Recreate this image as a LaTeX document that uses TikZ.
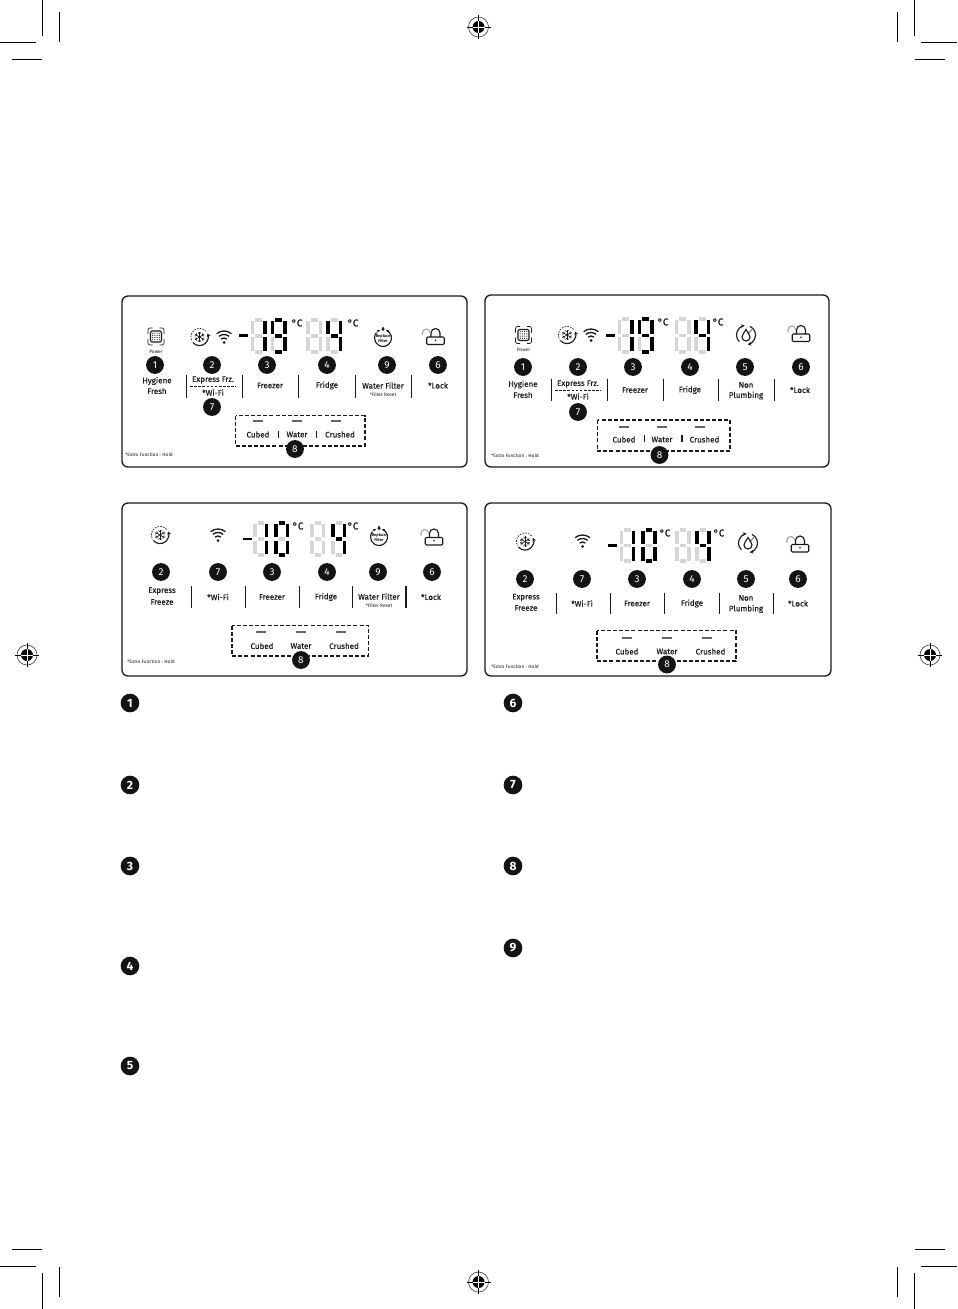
\documentclass[tikz,border=0pt]{standalone}
\usepackage{fontspec}
\setmainfont{Fira Sans}
\newfontfamily\labf{Fira Sans}[FakeBold=0.2]
\usetikzlibrary{arrows.meta}
\definecolor{ink}{HTML}{1A1A1A}
\definecolor{offseg}{HTML}{D6D6D6}
\newcount\nid
\newcommand\bump{\global\advance\nid by 1\relax}
\def\nn{n\the\nid}
\tikzset{
  frame/.style={draw=ink,line width=1pt,rounded corners=4.5pt},
  crop/.style={draw=black,line width=.75pt},
  sepline/.style={draw=ink,line width=.8pt},
  dbox/.style={draw=ink,line width=.85pt,dash pattern=on 3pt off 1.6pt},
  dsmall/.style={draw=ink,line width=.6pt,dash pattern=on 2pt off 1.1pt},
  bar/.style={draw=black!60,line width=1.5pt},
  gseg/.style={draw=offseg,line width=2.9pt},
  bseg/.style={draw=black,line width=2.9pt},
  mseg/.style={draw=black,line width=2.2pt},
  badge/.style={circle,fill=black!92,text=white,minimum size=13.4pt,inner sep=0pt,font=\fontsize{7.5}{8}\selectfont},
  bigbadge/.style={badge,minimum size=14pt,font=\fontsize{9}{9}\selectfont\bfseries},
  lab/.style={inner sep=0pt,text=ink,font=\labf\fontsize{6}{6}\selectfont},
  small/.style={inner sep=0pt,text=ink,font=\fontsize{3.6}{4}\selectfont},
  deg/.style={inner sep=0pt,text=ink,font=\labf\fontsize{7.5}{7}\selectfont},
  ic/.style={line width=.85pt,draw=ink},
  ict/.style={line width=.5pt,draw=ink},
}
\newcommand\Bd[3]{\bump\node[badge] (\nn) at (#1,#2) {#3};}
\newcommand\BB[3]{\bump\node[bigbadge] (\nn) at (#1,#2) {#3};}
\newcommand\Lb[3]{\bump\node[lab] (\nn) at (#1,#2) {#3};}
\newcommand\Sm[3]{\bump\node[small] (\nn) at (#1,#2) {#3};}
\newcommand\Xf[2]{\bump\node[small,anchor=west] (\nn) at (#1,#2) {*Extra Function : Hold};}
\newcommand\Deg[2]{\bump\node[deg] (\nn) at (#1,#2) {°C};}
\newcommand\Sp[4]{\foreach \q in {#1}{\draw[sepline] (\q,#2)--(\q,#3);}}
% seven segment digit
\def\sega{(2.6,0.6)--(\dw-2.6,0.6)}
\def\segb{(\dw,1.5)--(\dw,\dh/2-1.6)}
\def\segc{(\dw,\dh/2+1.6)--(\dw,\dh-1.5)}
\def\segd{(2.6,\dh-0.6)--(\dw-2.6,\dh-0.6)}
\def\sege{(0,\dh/2+1.6)--(0,\dh-1.5)}
\def\segf{(0,1.5)--(0,\dh/2-1.6)}
\def\segg{(2.6,\dh/2)--(\dw-2.6,\dh/2)}
\def\segz{(0,0)}
\newcommand\DrawS[2]{\expandafter\let\expandafter\tmpS\csname seg#2\endcsname\draw[#1] \tmpS;}
\newcommand\Dig[5]{\begin{scope}[shift={(#1,#2)}]\def\dw{#3}\def\dh{#4}\edef\seglist{#5}%
  \foreach \s in {a,b,c,d,e,f,g}{\DrawS{gseg}{\s}}%
  \foreach \s in \seglist {\DrawS{bseg}{\s}}\end{scope}}
% whole display: x1 x2 x3 x4 ytop w h minusx; second-digit segments in \SecondDigit
\def\SecondDigit{a,b,c,d,f,g}
\newcommand\Disp[8]{%
  \Dig{#1}{#5}{#6}{#7}{b,c}\Dig{#2}{#5}{#6}{#7}{\SecondDigit}%
  \Dig{#3}{#5}{#6}{#7}{z}\Dig{#4}{#5}{#6}{#7}{b,c,f,g}%
  \draw[mseg] ({#8-4.5},{#5+#7/2})--({#8+4.5},{#5+#7/2});}
\newcommand\Wifi[2]{\begin{scope}[shift={(#1,#2)}]
  \fill[ink] (0,5.5) circle[radius=1.5];
  \foreach \r in {4.5,8,11.5}{\draw[line width=1pt,draw=ink] (0,5.5)++(-130:\r) arc[start angle=-130,end angle=-50,radius=\r];}
\end{scope}}
\newcommand\Snow[2]{\begin{scope}[shift={(#1,#2)}]
  \draw[ict,dash pattern=on 1.2pt off .9pt] (-40:8.6) arc[start angle=-40,end angle=-210,radius=8.6];
  \draw[ic,-{Stealth[length=2.8pt,width=2.8pt]}] (140:8.6) arc[start angle=140,end angle=-25,radius=8.6];
  \foreach \a in {30,90,150}{\draw[ict] (\a:5.2)--(\a+180:5.2);}
  \foreach \a in {30,90,150,210,270,330}{\draw[ict] (\a:3)--+(\a+45:2.2) (\a:3)--+(\a-45:2.2);}
\end{scope}}
\newcommand\Hyg[2]{\begin{scope}[shift={(#1,#2)}]
  \draw[ict,rounded corners=1.5pt] (-3.5,-8.5)--(-8,-8.5)--(-8,-2.5) (3.5,-8.5)--(8,-8.5)--(8,-2.5) (-3.5,8.5)--(-8,8.5)--(-8,2.5) (3.5,8.5)--(8,8.5)--(8,2.5);
  \draw[ic,rounded corners=1pt] (-5.5,-5.5) rectangle (5.5,5.5);
  \foreach \i in {-3.3,-1.1,1.1,3.3}{\foreach \j in {-3.3,-1.1,1.1,3.3}{\fill[ink] (\i,\j) circle[radius=.6];}}
\end{scope}}
\newcommand\Lockk[2]{\begin{scope}[shift={(#1,#2)}]
  \draw[ic,rounded corners=.8pt] (-8.7,0) rectangle (8.7,7.5);
  \fill[ink] (0,3.3) circle[radius=.9];
  \draw[ic] (-4.5,0)--(-4.5,-4) arc[start angle=180,end angle=360,radius=4.5]--(4.5,0);
  \draw[line width=.85pt,draw=black!35] (-13,-2)--(-13,-4.2) arc[start angle=180,end angle=360,radius=3.8];
\end{scope}}
\newcommand\Repl[2]{\begin{scope}[shift={(#1,#2)}]
  \draw[ic] (-60:8.5) arc[start angle=-60,end angle=220,radius=8.5];
  \fill[ink] (0,-11.5)--(1.6,-8.6) arc[start angle=0,end angle=180,radius=1.6]--cycle;
  \draw[ic,-{Stealth[length=2pt,width=2pt]}] (-50:8.5) arc[start angle=-50,end angle=-66,radius=8.5];
  \draw[ic,-{Stealth[length=2pt,width=2pt]}] (-130:8.5) arc[start angle=-130,end angle=-114,radius=8.5];
  \bump\node[align=center,inner sep=0pt,text=ink,font=\fontsize{3}{3}\selectfont\bfseries] (\nn) at (0,.5) {Replace\\Filter};
\end{scope}}
\newcommand\NonP[2]{\begin{scope}[shift={(#1,#2)}]
  \draw[ic,-{Stealth[length=2.8pt,width=2.8pt]}] (135:9.5) arc[start angle=135,end angle=262,radius=9.5];
  \draw[ic,-{Stealth[length=2.8pt,width=2.8pt]}] (-65:9.5) arc[start angle=-65,end angle=80,radius=9.5];
  \draw[ic] (0,-5.5)..controls (-1.5,-2.5) and (-4,-.5)..(-4,2) arc[start angle=180,end angle=0,radius=4]..controls (4,-.5) and (1.5,-2.5)..(0,-5.5)--cycle;
  \draw[ict] (1.5,-1)--(6,-5.5);
\end{scope}}
\newcommand\Reg[2]{\begin{scope}[shift={(#1,#2)}]
  \draw[line width=.5pt,draw=black!70] (0,0) circle[radius=10];
  \fill[black] (0,0) circle[radius=6];
  \draw[line width=.65pt] (-12,0)--(12,0) (0,-12)--(0,12);
  \draw[line width=.5pt,white] (-6,0)--(6,0) (0,-6)--(0,6);
\end{scope}}
\begin{document}
\begin{tikzpicture}[x=.75pt,y=-.75pt]
\useasboundingbox (0,0) rectangle (957,1309);
\fill[white] (0,0) rectangle (957,1309);
% crop marks
\draw[crop] (42.5,0)--(42.5,36) (59.5,12)--(59.5,42) (0,42.5)--(36,42.5) (12,59.5)--(42,59.5);
\draw[crop] (914.5,0)--(914.5,36) (897.5,12)--(897.5,42) (957,42.5)--(921,42.5) (945,59.5)--(915,59.5);
\draw[crop] (42.5,1309)--(42.5,1273) (59.5,1297)--(59.5,1267) (0,1266.5)--(36,1266.5) (12,1249.5)--(42,1249.5);
\draw[crop] (914.5,1309)--(914.5,1273) (897.5,1297)--(897.5,1267) (957,1266.5)--(921,1266.5) (945,1249.5)--(915,1249.5);
\Reg{478.5}{27}\Reg{478.5}{1282}\Reg{27}{655}\Reg{930}{655}
% ---------- panel 1
\draw[frame] (122,296) rectangle (467,467);
\Hyg{156}{336.5}\Sm{156}{351.5}{Power}\Snow{199.5}{337}\Wifi{224}{337}
\Disp{252.5}{272.5}{308}{328}{319}{12.5}{33.5}{243}
\Deg{297}{323}\Deg{353}{323}\Repl{383}{338}\Lockk{435.5}{337}
\Bd{155}{365}{1}\Bd{212}{365}{2}\Bd{267}{365}{3}\Bd{327}{365}{4}\Bd{387}{365}{9}\Bd{438}{365}{6}\Bd{212}{407}{7}
\Lb{157}{381}{Hygiene}\Lb{157}{391}{Fresh}\Lb{213}{380}{Express Frz.}\Lb{213}{392.5}{*Wi-Fi}
\Lb{270}{385.5}{Freezer}\Lb{327}{385.5}{Fridge}\Lb{383}{385.5}{Water Filter}\Sm{383}{394.5}{*Filter Reset}\Lb{438}{385.5}{*Lock}
\Sp{186.5,242.5,298.5,355.5,411.5}{375}{398}{}
\draw[dsmall] (190,386)--(236,386);
\draw[dbox] (235.5,415.5) rectangle (365,446);
\foreach \q in {258,297,336}{\draw[bar] (\q-5,421)--(\q+5,421);}
\Lb{258}{434.5}{Cubed}\Lb{297}{434.5}{Water}\Lb{340}{434.5}{Crushed}
\Sp{278.5,316.5}{431}{437.5}{}
\Bd{295}{449}{8}\Xf{125}{454.5}
% ---------- panel 2
\draw[frame] (485,295) rectangle (829,467);
\Hyg{523.5}{335}\Sm{523.5}{350}{Power}\Snow{567}{335}\Wifi{591}{335}
\Disp{619.5}{639.5}{676.5}{696}{318.5}{12.5}{34}{610.5}
\Deg{663}{322}\Deg{718}{322}\NonP{746}{335}\Lockk{801}{334}
\Bd{523}{367}{1}\Bd{578}{367}{2}\Bd{633}{367}{3}\Bd{690}{367}{4}\Bd{745}{367}{5}\Bd{801}{367}{6}\Bd{578}{412}{7}
\Lb{523}{384.5}{Hygiene}\Lb{523}{395}{Fresh}\Lb{578}{384}{Express Frz.}\Lb{578}{396.5}{*Wi-Fi}
\Lb{635}{390}{Freezer}\Lb{690}{390}{Fridge}\Lb{746}{385}{Non}\Lb{746}{395.5}{Plumbing}\Lb{800}{390}{*Lock}
\Sp{551.5,607.5,663.5,718.5,774.5}{379}{401}{}
\draw[dsmall] (555,390)--(601,390);
\draw[dbox] (597.5,420) rectangle (730,451);
\foreach \q in {624,662,700}{\draw[bar] (\q-5,426.5)--(\q+5,426.5);}
\Lb{624}{439.5}{Cubed}\Lb{662}{439.5}{Water}\Lb{704.5}{439.5}{Crushed}
\Sp{644.5,682}{435}{442}{}
\Bd{659.5}{455}{8}\Xf{491}{456}
% ---------- panel 3
\draw[frame] (122,503) rectangle (467,676);
\Snow{160}{535}\Wifi{218}{535}
\def\SecondDigit{a,b,c,d,e,f}
\Disp{255}{276}{312}{333}{522.5}{11.5}{33}{247.5}
\Deg{298}{526}\Deg{353}{526}\Repl{379}{537}\Lockk{434}{537.5}
\Bd{161}{572}{2}\Bd{218}{572}{7}\Bd{272}{572}{3}\Bd{327}{572}{4}\Bd{378}{572}{9}\Bd{432}{572}{6}
\Lb{162}{591}{Express}\Lb{162}{602}{Freeze}\Lb{218}{597}{*Wi-Fi}\Lb{272}{597}{Freezer}\Lb{326}{597}{Fridge}
\Lb{379}{596.5}{Water Filter}\Sm{379}{606}{*Filter Reset}\Lb{431}{597}{*Lock}
\Sp{191.5,245.5,299.5,352.5,406}{586}{608}{}
\draw[dbox] (232,625.5) rectangle (368.5,656);
\foreach \q in {261,301,341}{\draw[bar] (\q-5,632)--(\q+5,632);}
\Lb{262}{646}{Cubed}\Lb{301}{646}{Water}\Lb{344}{646}{Crushed}
\Bd{301}{660}{8}\Xf{127}{662}
% ---------- panel 4
\draw[frame] (485,503) rectangle (831,676);
\Snow{525}{541.5}\Wifi{582.5}{541}
\Disp{621.5}{643}{677}{697}{529}{12}{33}{612}
\Deg{665}{533}\Deg{719}{533}\NonP{748}{543}\Lockk{800}{544.5}
\Bd{525}{579}{2}\Bd{582}{579}{7}\Bd{637}{579}{3}\Bd{692}{579}{4}\Bd{746}{579}{5}\Bd{798}{579}{6}
\Lb{526}{597.5}{Express}\Lb{526}{608}{Freeze}\Lb{582}{603.5}{*Wi-Fi}\Lb{637}{603.5}{Freezer}\Lb{692}{603.5}{Fridge}
\Lb{746}{598}{Non}\Lb{746}{609}{Plumbing}\Lb{798}{603.5}{*Lock}
\Sp{556.5,610.5,664.5,719.5,773.5}{593}{614}{}
\draw[dbox] (597,630.5) rectangle (736,661);
\foreach \q in {627,667,707}{\draw[bar] (\q-5,637.5)--(\q+5,637.5);}
\Lb{627}{651.5}{Cubed}\Lb{667}{651.5}{Water}\Lb{710.5}{651.5}{Crushed}
\Bd{667}{664.5}{8}\Xf{491}{667}
% ---------- list badges
\BB{130}{703}{1}\BB{130}{785}{2}\BB{130}{866}{3}\BB{130}{966}{4}\BB{130}{1066}{5}
\BB{513}{703}{6}\BB{513}{785}{7}\BB{513}{866}{8}\BB{513}{948}{9}
\end{tikzpicture}
\end{document}
